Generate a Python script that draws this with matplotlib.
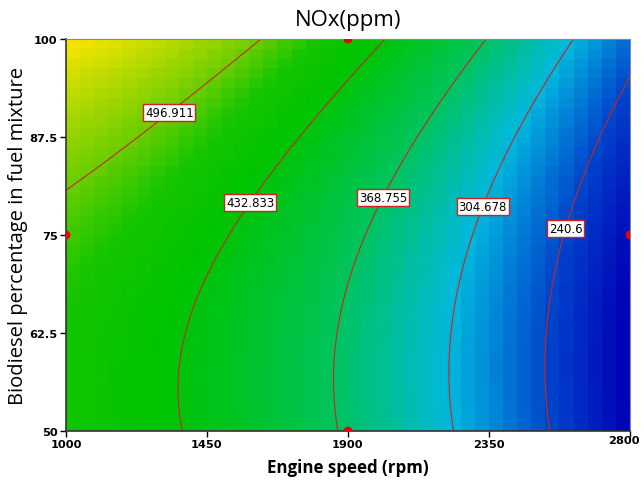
import matplotlib
matplotlib.use("Agg")
import matplotlib.pyplot as plt
import numpy as np
from matplotlib.colors import LinearSegmentedColormap, Normalize
from matplotlib.transforms import ScaledTranslation

# quadratic response-surface model in coded units
# A = (speed - 1900) / 900, B = (biodiesel - 75) / 25
b0, bA, bB, bAB, bAA, bBB = 378.0, -147.6, 45.0, -5.4, -41.8, 30.7

speed_range = [1000, 2800]
bio_range = [50, 100]
speed_ticks = [1000, 1450, 1900, 2350, 2800]
bio_ticks = [50, 62.5, 75, 87.5, 100]
levels = [240.6, 304.678, 368.755, 432.833, 496.911]
label_pos = [(2583, 76.0), (2331, 78.6), (2012, 79.8), (1587, 79.2), (1316, 91.3)]
design_speed = [1900, 1900, 2800, 1000]
design_bio = [100, 50, 75, 75]

# colour stops (response value, colour)
stop_vals = [180, 240, 305, 370, 440, 470, 500, 565]
stop_cols = ["#0000b6", "#0046cc", "#00b8de", "#00c45c", "#00c400",
             "#14c500", "#70ce00", "#ffe600"]


def nox(speed, bio):
    A = (speed - 1900) / 900
    B = (bio - 75) / 25
    return b0 + bA * A + bB * B + bAB * A * B + bAA * A ** 2 + bBB * B ** 2


vmin, vmax = stop_vals[0], stop_vals[-1]
pos = [(v - vmin) / (vmax - vmin) for v in stop_vals]
cmap = LinearSegmentedColormap.from_list("de", list(zip(pos, stop_cols)))

fig = plt.figure(figsize=(6.44, 4.85), dpi=100)
ax = fig.add_axes([0.1025, 0.1093, 0.8757, 0.8082])

# coarse shaded cells
nx, ny = 40, 40
xe = np.linspace(*speed_range, nx + 1)
ye = np.linspace(*bio_range, ny + 1)
xc = 0.5 * (xe[:-1] + xe[1:])
yc = 0.5 * (ye[:-1] + ye[1:])
Xc, Yc = np.meshgrid(xc, yc)
ax.pcolormesh(xe, ye, nox(Xc, Yc), cmap=cmap, norm=Normalize(vmin, vmax),
              shading="flat")

# smooth contour lines
xf = np.linspace(*speed_range, 400)
yf = np.linspace(*bio_range, 300)
Xf, Yf = np.meshgrid(xf, yf)
cs = ax.contour(Xf, Yf, nox(Xf, Yf), levels=levels, colors="#c8281e",
                linewidths=0.8)
txts = ax.clabel(cs, fmt={l: f"{l:g}" for l in levels}, manual=label_pos,
                 inline=False, fontsize=8.5, colors="black")
for t in txts:
    t.set_rotation(0)
    t.set_family("DejaVu Sans")
    t.set_zorder(6)
    t.set_bbox(dict(boxstyle="square,pad=0.15", fc="white", ec="#d02020", lw=1))

ax.scatter(design_speed, design_bio, s=40, color="#e8000b", zorder=5,
           clip_on=True, edgecolors="none")

ax.set_xlim(*speed_range)
ax.set_ylim(*bio_range)
ax.set_xticks(speed_ticks)
ax.set_yticks(bio_ticks)
ax.set_xticklabels([f"{v:g}" for v in speed_ticks], fontsize=8.2, fontweight="bold")
ax.set_yticklabels([f"{v:g}" for v in bio_ticks], fontsize=8.2, fontweight="bold")
ax.tick_params(direction="out", length=4, width=1, pad=2)
# last speed label sits a little left so it stays inside the figure
last = ax.get_xticklabels()[-1]
last.set_transform(last.get_transform() +
                   ScaledTranslation(-4 / 72, 3 / 72, fig.dpi_scale_trans))
for s in ["left", "bottom"]:
    ax.spines[s].set_color("#333333")
    ax.spines[s].set_linewidth(1.2)
for s in ["top", "right"]:
    ax.spines[s].set_color("#888888")
    ax.spines[s].set_linewidth(0.8)

ax.set_xlabel("Engine speed (rpm)", fontsize=12.2, fontweight="bold",
              family="Open Sans", labelpad=6)
ax.set_ylabel("Biodiesel percentage in fuel mixture", fontsize=14.5,
              family="Open Sans", labelpad=1)
ax.set_title("NOx(ppm)", fontsize=16, family="Open Sans", pad=10)

fig.savefig("out.png", dpi=100)
plt.close(fig)
